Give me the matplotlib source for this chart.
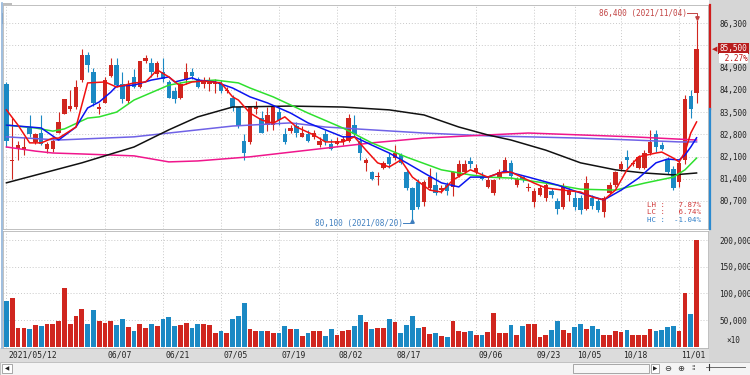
import numpy as np
import pandas as pd
import matplotlib
matplotlib.use("Agg")
import matplotlib.pyplot as plt
import matplotlib.transforms as mtransforms
from matplotlib.patches import Rectangle

plt.rcParams["font.family"] = ["DejaVu Sans Mono", "Noto Sans CJK KR"]

# KRX trading days, 2021/05/12 - 2021/11/04
holidays = ["2021-05-19", "2021-08-16", "2021-09-20", "2021-09-21",
            "2021-09-22", "2021-10-04", "2021-10-11"]
dates = pd.bdate_range("2021-05-12", "2021-11-04").drop(pd.to_datetime(holidays))

opens = [84400, 81950, 82350, 82350, 83000, 82550, 82850, 82350, 82350, 82850,
         83450, 83600, 83650, 84500, 85300, 84750, 83600, 83800, 84650, 85000,
         84400, 83850, 84600, 84300, 85100, 85050, 84700, 84750, 84450, 84150,
         83950, 84500, 84750, 84550, 84400, 84400, 84400, 84400, 84150, 83950,
         83650, 82600, 82550, 83600, 83300, 83100, 83100, 83500, 82800, 82900,
         83050, 82700, 82800, 82700, 82450, 82800, 82500, 82500, 82550, 82600,
         83100, 82600, 81900, 81600, 81450, 81750, 82100, 82050, 82150, 81600,
         81100, 81300, 80650, 81100, 81200, 81050, 81200, 81150, 81500, 81600,
         81950, 81600, 81500, 81150, 80950, 81450, 81650, 81900, 81200, 81450,
         81100, 80650, 80900, 80800, 81000, 80700, 80500, 80900, 80800, 80800,
         80450, 80800, 80700, 80350, 80950, 81200, 81700, 82100, 81850, 81750,
         81750, 82200, 82800, 82450, 82000, 81700, 81300, 82000, 84000, 84100]
highs = [84450, 83300, 82600, 82700, 83400, 82850, 83400, 82550, 82700, 83500,
         83900, 84200, 84500, 85500, 85400, 84900, 83800, 84600, 85200, 85200,
         84750, 84500, 84850, 85100, 85300, 85200, 85100, 85200, 84500, 84300,
         84450, 85050, 84900, 84600, 84600, 84600, 84550, 84500, 84300, 84050,
         83650, 82800, 83650, 83850, 83550, 83650, 83700, 83650, 83000, 83100,
         83200, 83050, 82950, 82950, 82700, 82950, 82650, 82700, 82750, 83450,
         83400, 82700, 82050, 81650, 81600, 81950, 82200, 82450, 82200, 81700,
         81150, 81400, 81350, 81750, 81600, 81200, 81300, 81650, 82000, 82000,
         82100, 81850, 81600, 81450, 81400, 81700, 82100, 82000, 81450, 81500,
         81250, 81100, 81200, 81300, 81100, 80800, 81250, 81100, 81000, 80900,
         81500, 80900, 80800, 80850, 81300, 81650, 81950, 82300, 82000, 82150,
         82300, 82950, 82950, 82550, 82100, 81800, 82000, 84050, 84200, 86400]
lows = [82400, 81400, 82000, 82150, 82700, 82500, 82450, 82200, 82250, 82850,
        83450, 83550, 83600, 84450, 84750, 83700, 83450, 83800, 84600, 84300,
        83800, 83800, 84250, 84250, 85050, 84600, 84600, 84450, 83950, 83800,
        83900, 84400, 84550, 84250, 84250, 84150, 84100, 84100, 84100, 83550,
        83000, 82000, 82500, 83450, 82850, 82900, 82950, 83100, 82500, 82850,
        82700, 82700, 82550, 82650, 82400, 82450, 82300, 82450, 82450, 82550,
        82700, 82000, 81650, 81350, 81200, 81700, 81750, 82000, 81850, 81050,
        80100, 80450, 80550, 81050, 80900, 80950, 80900, 80850, 81450, 81550,
        81750, 81550, 81350, 81100, 80900, 81400, 81600, 81400, 81150, 81300,
        81000, 80500, 80850, 80700, 80800, 80300, 80450, 80700, 80400, 80300,
        80400, 80450, 80350, 80200, 80900, 81150, 81650, 81750, 81800, 81700,
        81700, 82150, 82250, 82300, 81550, 81050, 81150, 81850, 83300, 83800]
closes = [82600, 82000, 82450, 82400, 82800, 82800, 82500, 82500, 82600, 83200,
          83900, 83700, 84300, 85300, 85000, 83800, 83650, 84500, 85000, 84350,
          83900, 84400, 84300, 85100, 85200, 84750, 85050, 84550, 83950, 83900,
          84400, 84750, 84650, 84300, 84500, 84500, 84450, 84150, 84200, 83650,
          83050, 82200, 83650, 83700, 82850, 83400, 83650, 83250, 82550, 83000,
          82850, 82850, 82600, 82850, 82600, 82600, 82350, 82600, 82650, 83300,
          82800, 82200, 82000, 81400, 81500, 81900, 81850, 82200, 81900, 81100,
          80400, 80500, 81300, 81450, 80950, 81100, 81000, 81600, 81850, 81850,
          81850, 81750, 81400, 81350, 81350, 81600, 82000, 81500, 81400, 81350,
          81150, 81000, 81100, 81200, 80900, 80450, 81150, 81000, 80500, 80400,
          81250, 80550, 80400, 80800, 81200, 81600, 81850, 82000, 81900, 82100,
          82200, 82550, 82400, 82350, 81600, 81100, 81900, 83900, 83600, 85500]
# volume, in units of 10 shares
volumes = [85700, 90700, 35600, 35600, 33800, 40700, 38200, 43200, 43200, 48800,
           109500, 43200, 58100, 71300, 42500, 68200, 47600, 45100, 48800, 40700,
           52600, 36300, 28800, 43200, 35600, 43200, 38200, 52600, 55600, 38200,
           40700, 45100, 35000, 42500, 42500, 40100, 25100, 28800, 26300, 52600,
           57000, 82600, 33800, 30100, 30100, 28800, 25100, 25100, 38200, 33800,
           33800, 20700, 25100, 28800, 30100, 19400, 32600, 22600, 30100, 31300,
           39400, 58800, 45700, 33800, 35000, 35000, 52000, 46000, 25000, 41000,
           57000, 35000, 37000, 23000, 25000, 20000, 18000, 48000, 29000, 28000,
           29000, 22000, 22000, 27000, 63000, 26000, 26000, 41000, 22000, 38000,
           42000, 42000, 18000, 22000, 31000, 49000, 31000, 26000, 37000, 42000,
           33000, 38000, 34000, 21000, 22000, 29000, 27000, 31000, 22000, 22000,
           22000, 34000, 30000, 31000, 36000, 38000, 29000, 100000, 61000, 200000]

# moving averages (bar index, price)
ma5_idx = [0, 2, 4, 6, 8, 9, 12, 14, 17, 19, 22, 24, 26, 28, 30, 32, 34, 37, 39,
           40, 42, 44, 46, 48, 50, 53, 55, 58, 60, 62, 64, 66, 68, 70, 73, 75,
           77, 80, 83, 85, 87, 91, 93, 96, 99, 101, 103, 105, 107, 109, 112,
           113, 115, 116, 117, 118, 119]
ma5_val = [83570, 83090, 82530, 82530, 82680, 82680, 83030, 84420, 84450, 84290,
           84420, 84450, 84830, 84610, 84320, 84450, 84480, 84420, 83980, 83880,
           83470, 83250, 83150, 83350, 83030, 82780, 82560, 82560, 82720, 82300,
           81900, 81770, 81990, 81450, 81040, 80980, 81360, 81680, 81450, 81580,
           81610, 81260, 81110, 81040, 80980, 80820, 80730, 81040, 81680, 82090,
           82210, 82240, 82050, 81930, 82240, 82840, 83190]
ma10_idx = [0, 4, 6, 9, 12, 14, 16, 18, 19, 22, 25, 28, 29, 32, 33, 36, 39, 42,
            45, 49, 52, 55, 58, 60, 63, 66, 69, 72, 75, 78, 80, 83, 86, 90, 95,
            99, 103, 106, 109, 112, 114, 116, 117, 118, 119]
ma10_val = [83090, 83030, 83000, 82620, 83030, 83630, 83820, 84130, 84320, 84350,
            84510, 84610, 84450, 84580, 84510, 84450, 84260, 83980, 83790, 83470,
            83160, 82940, 82720, 82720, 82460, 82210, 81900, 81580, 81270, 81140,
            81450, 81450, 81640, 81450, 81200, 80950, 80730, 81040, 81420, 81900,
            82020, 81990, 82150, 82400, 82690]
ma20_idx = [0, 5, 8, 10, 14, 16, 19, 22, 28, 31, 36, 40, 42, 46, 52, 58, 63, 69,
            75, 80, 83, 87, 93, 99, 105, 110, 115, 117, 119]
ma20_val = [83090, 83000, 82900, 82970, 83310, 83350, 83500, 83880, 84350, 84450,
            84510, 84420, 84260, 83980, 83470, 83000, 82530, 82080, 81680, 81520,
            81450, 81420, 81260, 81070, 81040, 81260, 81450, 81680, 82050]
ma60_idx = [0, 13, 22, 28, 33, 39, 49, 58, 66, 72, 78, 83, 87, 93, 99, 105, 110,
            115, 119]
ma60_val = [81270, 81900, 82400, 82940, 83350, 83660, 83690, 83660, 83570, 83410,
            83030, 82780, 82620, 82300, 81900, 81680, 81580, 81520, 81580]
ma120_idx = [0, 5, 8, 13, 22, 28, 33, 42, 52, 63, 72, 83, 90, 99, 108, 119]
ma120_val = [82400, 82270, 82210, 82180, 82120, 81930, 81960, 82090, 82300, 82530,
             82680, 82780, 82840, 82780, 82720, 82620]
ma240_idx = [0, 9, 22, 33, 39, 49, 55, 63, 72, 83, 90, 99, 108, 116, 119]
ma240_val = [82720, 82620, 82720, 82940, 83060, 83160, 83030, 82940, 82840, 82750,
             82720, 82680, 82620, 82560, 82560]

tick_dates = ["2021-05-12", "2021-06-07", "2021-06-21", "2021-07-05", "2021-07-19",
              "2021-08-02", "2021-08-17", "2021-09-06", "2021-09-23", "2021-10-05",
              "2021-10-18", "2021-11-01"]
tick_labels = ["2021/05/12", "06/07", "06/21", "07/05", "07/19", "08/02", "08/17",
               "09/06", "09/23", "10/05", "10/18", "11/01"]
price_ticks = [80700, 81400, 82100, 82800, 83500, 84200, 84900, 85600, 86300]
vol_ticks = [50000, 100000, 150000, 200000]
prev_close = 83600
change_pct = "2.27%"

RED = "#d0261f"
BLUE = "#1b89c4"
GRID = "#c9c9c9"
W, H = 750, 375


def rect(x0, y0, x1, y1):
    return [x0 / W, 1 - y1 / H, (x1 - x0) / W, (y1 - y0) / H]


fig = plt.figure(figsize=(7.5, 3.75), dpi=100, facecolor="white")

# background strips (pixel space)
bg = fig.add_axes([0, 0, 1, 1], zorder=0)
bg.set_xlim(0, W)
bg.set_ylim(H, 0)
bg.axis("off")
bg.add_patch(Rectangle((709, 0), 41, 362, color="#d6d6d6", lw=0))
bg.add_patch(Rectangle((0, 348), 709, 14, color="#dcdcdc", lw=0))
bg.add_patch(Rectangle((0, 362), W, 13, facecolor="#f4f4f4", edgecolor="#b8b8b8", lw=0.6))
bg.add_patch(Rectangle((2, 364), 10, 9, facecolor="white", edgecolor="#9a9a9a", lw=0.6))
bg.text(7, 368.5, "◀", fontsize=4, ha="center", va="center", color="#222", family="DejaVu Sans")
bg.add_patch(Rectangle((573, 364), 76, 9, facecolor="#f7f7f7", edgecolor="#9a9a9a", lw=0.6))
bg.add_patch(Rectangle((651, 364), 8, 9, facecolor="white", edgecolor="#9a9a9a", lw=0.6))
bg.text(655, 368.5, "▶", fontsize=4, ha="center", va="center", color="#222", family="DejaVu Sans")
bg.text(668, 368.5, "⊖", fontsize=6, ha="center", va="center", color="#333", family="DejaVu Sans")
bg.text(681, 368.5, "⊕", fontsize=6, ha="center", va="center", color="#333", family="DejaVu Sans")
bg.text(693, 368.5, "⁞⁞", fontsize=5, ha="center", va="center", color="#333", family="DejaVu Sans")
bg.plot([706, 745], [367, 367], color="#555", lw=0.6)
bg.plot([709, 709], [364, 370], color="#333", lw=0.8)
bg.plot([2, 2], [3, 348], color="#8fb3d9", lw=1.2)
bg.add_patch(Rectangle((3, 3), 9, 4, color="#bdbdbd", lw=0))
bg.add_patch(Rectangle((3, 234), 8, 4, color="#bdbdbd", lw=0))
for xx in (694, 701):
    bg.add_patch(Rectangle((xx, 13), 5, 5, facecolor="#eeeeee", edgecolor="#999", lw=0.5))
    bg.add_patch(Rectangle((xx, 234), 5, 5, facecolor="#eeeeee", edgecolor="#999", lw=0.5))

ax = fig.add_axes(rect(3, 5, 708, 229), zorder=2)
axv = fig.add_axes(rect(3, 231, 708, 348), zorder=2)

o = np.array(opens)
h = np.array(highs)
l = np.array(lows)
c = np.array(closes)
x = np.arange(len(o))
col = np.where(c >= o, RED, BLUE)

tick_idx = [dates.get_loc(pd.Timestamp(d)) for d in tick_dates]

for a in (ax, axv):
    a.set_facecolor("white")
    a.set_xlim(-0.59, 120.97)
    a.set_xticks(tick_idx)
    a.tick_params(axis="x", length=0, labelbottom=False)
    a.grid(True, color=GRID, ls=(0, (1, 2)), lw=0.7)
    a.set_axisbelow(True)
    for s in a.spines.values():
        s.set_color("#b5b5b5")
        s.set_linewidth(0.6)
    a.yaxis.tick_right()
    a.tick_params(axis="y", length=0, pad=8, labelsize=5.6, labelcolor="#222")

# price panel
ax.set_ylim(79814, 86877)
ax.set_yticks(price_ticks)
ax.set_yticklabels(["" if p == 85600 else f"{p:,}" for p in price_ticks])

ax.vlines(x, l, h, colors=col, lw=0.8, zorder=3)
ax.bar(x, np.maximum(np.abs(c - o), 18), bottom=np.minimum(o, c), width=0.74,
       color=col, lw=0, zorder=3)

ax.plot(ma240_idx, ma240_val, color="#6f62e6", lw=1.1, zorder=4)
ax.plot(ma120_idx, ma120_val, color="#f0168c", lw=1.1, zorder=4)
ax.plot(ma60_idx, ma60_val, color="#111111", lw=1.1, zorder=4)
ax.plot(ma20_idx, ma20_val, color="#2ee02e", lw=1.1, zorder=5)
ax.plot(ma10_idx, ma10_val, color="#0a14f0", lw=1.1, zorder=5)
ax.plot(ma5_idx, ma5_val, color="#f01010", lw=1.1, zorder=6)

# range bar on right edge (above / below previous close)
ax.plot([1.003, 1.003], [prev_close, 86877], transform=ax.get_yaxis_transform(),
        color="#d01c1c", lw=1.6, clip_on=False, zorder=7)
ax.plot([1.003, 1.003], [79814, prev_close], transform=ax.get_yaxis_transform(),
        color="#2a8ad0", lw=1.6, clip_on=False, zorder=7)

# current price box
last = closes[-1]
ax.text(1.006, last, "◀", transform=ax.get_yaxis_transform(), fontsize=5,
        color="#c01818", va="center", ha="left", family="DejaVu Sans", clip_on=False)
ax.text(1.0165, last, f"{last:,}", transform=ax.get_yaxis_transform(), fontsize=5.6,
        color="white", va="center", ha="left", clip_on=False,
        bbox=dict(boxstyle="square,pad=0.15", fc="#b81c1c", ec="none"))
ax.text(1.0165, last - 300, change_pct.rjust(6), transform=ax.get_yaxis_transform(),
        fontsize=5.6, color="#c01818", va="center", ha="left", clip_on=False,
        bbox=dict(boxstyle="square,pad=0.1", fc="white", ec="none"))

# high / low markers
hi_i = int(np.argmax(h))
lo_i = int(np.argmin(l))
hi_lbl = f"{h[hi_i]:,} ({dates[hi_i]:%Y/%m/%d})"
lo_lbl = f"{l[lo_i]:,} ({dates[lo_i]:%Y/%m/%d})"
ax.text(hi_i - 1.7, h[hi_i] + 215, hi_lbl, fontsize=5.6, color="#c24444",
        ha="right", va="center", zorder=8)
ax.plot([hi_i - 1.6, hi_i, hi_i], [h[hi_i] + 215, h[hi_i] + 215, h[hi_i] + 30],
        color="#c24444", lw=0.7, zorder=8)
ax.plot([hi_i], [h[hi_i] + 60], marker="v", ms=2.5, color="#c24444", zorder=8)
ax.text(lo_i - 1.7, l[lo_i] - 100, lo_lbl, fontsize=5.6, color="#3f7fbf",
        ha="right", va="center", zorder=8)
ax.plot([lo_i - 1.6, lo_i, lo_i], [l[lo_i] - 100, l[lo_i] - 100, l[lo_i] - 20],
        color="#3f7fbf", lw=0.7, zorder=8)
ax.plot([lo_i], [l[lo_i] - 40], marker="^", ms=2.5, color="#3f7fbf", zorder=8)

# LH / LC / HC
lh = (h[hi_i] - l[lo_i]) / l[lo_i] * 100
lc = (last - l[lo_i]) / l[lo_i] * 100
hc = (last - h[hi_i]) / h[hi_i] * 100
for k, (lab, v, cc) in enumerate([("LH", lh, "#d03a3a"), ("LC", lc, "#d03a3a"),
                                  ("HC", hc, "#2f7fc8")]):
    ax.text(0.99, 0.108 - k * 0.034, f"{lab} : {v:6.2f}%", transform=ax.transAxes,
            fontsize=5.4, color=cc, ha="right", va="center", zorder=8)

# legend line
leg = [("KT&G", "#d42a2a", 14), ("KT&G:5", "#d42a2a", 39), ("10", "#0a14f0", 75),
       ("20", "#22cc22", 92), ("60", "#111111", 109), ("120", "#e8147f", 126),
       ("240", "#6f62e6", 147)]
for name, cc, px in leg:
    bg.add_patch(Rectangle((px, 6), 2, 7, color=cc, lw=0))
    bg.text(px + 4, 9.5, name, fontsize=6, color=cc, ha="left", va="center")
bg.add_patch(Rectangle((2, 13), 14, 11, color="#5d7fa6", lw=0))
bg.text(9, 18.5, "호", fontsize=6, color="white", ha="center", va="center",
        family=["Noto Sans CJK KR", "DejaVu Sans"])

# volume panel
axv.set_ylim(-2440, 216900)
axv.set_yticks(vol_ticks)
axv.set_yticklabels([f"{v:,}" for v in vol_ticks])
axv.bar(x, volumes, width=0.8, color=col, lw=0, zorder=3)
axv.text(1.026, 10700, "×10", transform=axv.get_yaxis_transform(), fontsize=5.6,
         color="#222", ha="left", va="center", clip_on=False)
bg.add_patch(Rectangle((13, 236), 2, 6, color="#2e8b2e", lw=0))
bg.text(17, 239, "KT&G:거래량", fontsize=6, color="#2e8b2e", ha="left", va="center")

# date labels in the strip under the volume panel
tr = mtransforms.blended_transform_factory(axv.transData, fig.transFigure)
off = mtransforms.ScaledTranslation(2 / 100, 0, fig.dpi_scale_trans)
for i, lbl in zip(tick_idx, tick_labels):
    axv.text(i, 1 - 355.5 / H, lbl, transform=tr + off, fontsize=5.8, color="#222",
             ha="left", va="center", clip_on=False)

fig.savefig("out.png", dpi=100, facecolor=fig.get_facecolor())
